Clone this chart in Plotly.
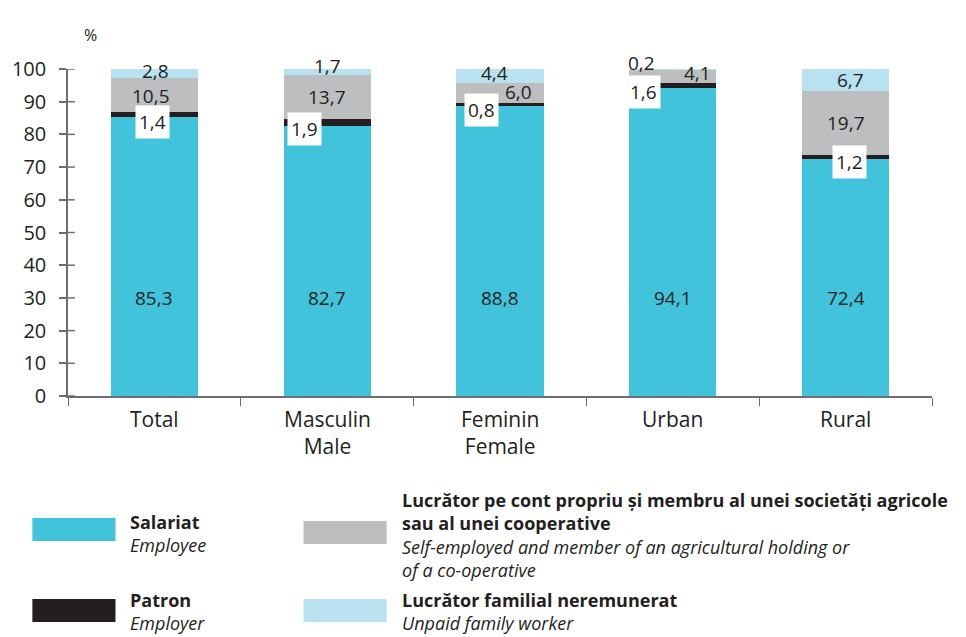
import plotly.graph_objects as go

categories = ["Total", "Masculin<br>Male", "Feminin<br>Female", "Urban", "Rural"]
salariat = [85.3, 82.7, 88.8, 94.1, 72.4]
patron = [1.4, 1.9, 0.8, 1.6, 1.2]
cont_propriu = [10.5, 13.7, 6.0, 4.1, 19.7]
familial = [2.8, 1.7, 4.4, 0.2, 6.7]

C_BLUE = "#40C3DB"
C_BLACK = "#231F20"
C_GRAY = "#BCBEC0"
C_LIGHT = "#B8E2F0"
TXT = "#231F20"
AXC = "#6D6E71"
FONT = "Open Sans"

W, H = 966, 637
L, R, T, B = 59, 34, 69, 241
PW = W - L - R
PH = H - T - B


def fmt(v):
    return f"{v:.1f}".replace(".", ",")


def px_x(x):
    return (x - L) / PW


def px_y(y):
    return (H - B - y) / PH


fig = go.Figure()
for name, vals, col in [
    ("Salariat", salariat, C_BLUE),
    ("Patron", patron, C_BLACK),
    ("Cont propriu", cont_propriu, C_GRAY),
    ("Familial", familial, C_LIGHT),
]:
    fig.add_trace(go.Bar(x=categories, y=vals, name=name, marker=dict(color=col, line=dict(width=0)),
                         showlegend=False, hoverinfo="skip"))

ann = []
lab_font = dict(family=FONT, size=19, color=TXT)
# Salariat labels
for c, v in zip(categories, salariat):
    ann.append(dict(x=c, y=30, xref="x", yref="y", text=fmt(v), showarrow=False, font=lab_font))
# Patron labels (white boxes)
p_dx = [-2, -23, -19, -29, 4]
p_dy = [-5, -3, -4, -4, -3]
for i, c in enumerate(categories):
    ann.append(dict(x=c, y=salariat[i], xref="x", yref="y", text=fmt(patron[i]), showarrow=False,
                    font=lab_font, bgcolor="white", borderpad=3, xshift=p_dx[i], yshift=p_dy[i]))
# Self-employed labels
g_dx = [-3, 0, 18, 25, 0]
g_dy = [-1, 0, 1, 3, 0]
for i, c in enumerate(categories):
    base = salariat[i] + patron[i]
    ann.append(dict(x=c, y=base + cont_propriu[i] / 2, xref="x", yref="y", text=fmt(cont_propriu[i]),
                    showarrow=False, font=lab_font, xshift=g_dx[i], yshift=g_dy[i]))
# Unpaid family labels
f_dx = [1, 0, -6, -31, 5]
f_dy = [3, 6, 3, 6, 0]
for i, c in enumerate(categories):
    base = salariat[i] + patron[i] + cont_propriu[i]
    ann.append(dict(x=c, y=base + familial[i] / 2, xref="x", yref="y", text=fmt(familial[i]),
                    showarrow=False, font=lab_font, xshift=f_dx[i], yshift=f_dy[i]))

# Category labels
cat_font = dict(family=FONT, size=21, color=TXT)
for c in categories:
    ann.append(dict(x=c, y=px_y(403), xref="x", yref="paper", text=c, showarrow=False,
                    yanchor="top", font=cat_font))

# % unit label
ann.append(dict(x=px_x(73), y=px_y(22), xref="paper", yref="paper", text="%", showarrow=False,
                font=dict(family=FONT, size=16, color=TXT)))

shapes = []
# inner half of y ticks (crossing ticks)
for v in range(0, 101, 10):
    shapes.append(dict(type="line", xref="paper", yref="y", x0=0, x1=7 / PW, y0=v, y1=v,
                       line=dict(color=AXC, width=1.5)))

# Custom legend: (colour, swatch x, swatch top y, text, text x, first-line centre y)
legend_items = [
    (C_BLUE, 23, 518, "<b>Salariat</b><br><i>Employee</i>", 120, 520),
    (C_BLACK, 23, 599, "<b>Patron</b><br><i>Employer</i>", 120, 598),
    (C_GRAY, 297, 521, "<b>Lucrător pe cont propriu și membru al unei societăți agricole</b><br>"
                       "<b>sau al unei cooperative</b><br>"
                       "<i>Self-employed and member of an agricultural holding or</i><br>"
                       "<i>of a co-operative</i>", 394, 498),
    (C_LIGHT, 297, 599, "<b>Lucrător familial neremunerat</b><br><i>Unpaid family worker</i>", 394, 598),
]
LEG_FS = 18
for col, sx, sy, txt, tx, ty in legend_items:
    shapes.append(dict(type="rect", xref="paper", yref="paper", x0=px_x(sx), x1=px_x(sx + 84),
                       y0=px_y(sy + 23), y1=px_y(sy), fillcolor=col, line=dict(width=0)))
    ann.append(dict(x=px_x(tx), y=px_y(ty - LEG_FS * 0.65), xref="paper", yref="paper", text=txt,
                    showarrow=False, xanchor="left", yanchor="top", align="left",
                    font=dict(family=FONT, size=LEG_FS, color=TXT)))

fig.update_layout(
    width=W, height=H,
    margin=dict(l=L, r=R, t=T, b=B),
    barmode="stack", bargap=0.495,
    plot_bgcolor="white", paper_bgcolor="white",
    font=dict(family=FONT, size=20, color=TXT),
    annotations=ann, shapes=shapes,
    xaxis=dict(type="category", showline=True, linecolor=AXC, linewidth=1.5, ticks="outside",
               tickson="boundaries", ticklen=8, tickcolor=AXC, tickwidth=1.2, showgrid=False,
               showticklabels=False),
    yaxis=dict(range=[0, 100], dtick=10, showline=True, linecolor=AXC, linewidth=1.5, ticks="outside",
               ticklen=7, tickcolor=AXC, tickwidth=1.5, showgrid=False, zeroline=False,
               ticklabelstandoff=9, tickfont=dict(family=FONT, size=20, color=TXT)),
)

fig.write_html("out.html", config={"displayModeBar": False},
               post_script="document.body.style.margin='0';document.body.style.overflow='hidden';")
